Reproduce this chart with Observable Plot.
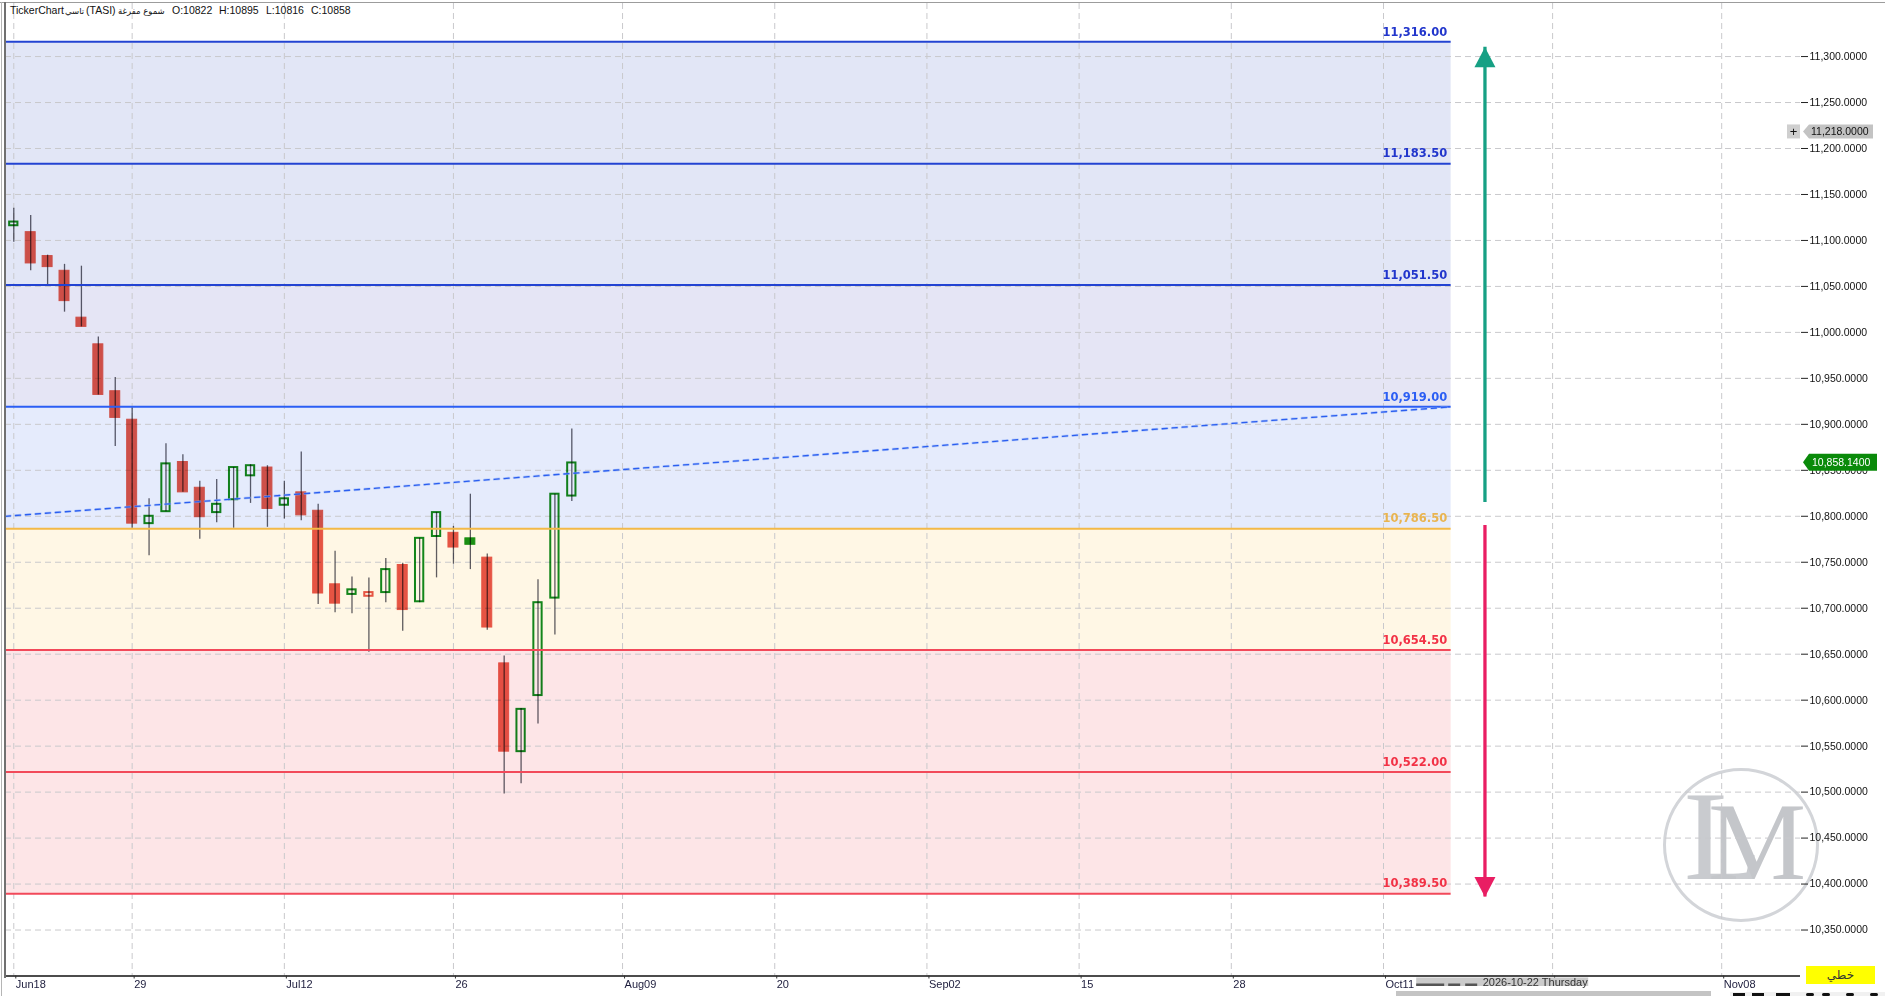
<!DOCTYPE html>
<html>
<head>
<meta charset="utf-8">
<script src="https://cdn.jsdelivr.net/npm/d3@7"></script>
<script src="https://cdn.jsdelivr.net/npm/@observablehq/plot@0.6"></script>
<style>
  html, body { margin: 0; padding: 0; background: #fff; overflow: hidden; }
  #wrap { position: relative; width: 1885px; height: 996px; font-family: 'Liberation Sans', Arial, sans-serif; }
  #wrap svg { position: absolute; left: 0; top: 0; z-index: 2; }
  .ov { position: absolute; white-space: nowrap; }
  .tt { z-index: 3; top: 4px; font-size: 10.5px; color: #111; line-height: 13px; }
  .ar { font-family: 'DejaVu Sans', 'Noto Sans', sans-serif; font-size: 8.5px; top: 5px; }
</style>
</head>
<body>
<div id="wrap"></div>
<script>
// ---------------- DATA ----------------
// trading-day index of each candle (0 = Jun18)
const dayIndex = [0,1,2,3,4,5,6,7,8,9,10,11,12,13,14,15,16,17,18,19,20,21,22,23,24,25,26,27,28,29,30,31,32,33];
const openV  = [11116,11109,11083,11067,11016,10987,10936,10905,10792,10805,10859,10831,10804,10818,10844,10853,10812,10826,10806,10726,10715,10713,10717,10747,10707,10778,10782,10776,10755,10640,10544,10605,10711,10822];
const highV  = [11135,11127,11084,11074,11072,10995,10951,10918,10819,10879,10867,10838,10840,10853,10856,10855,10838,10870,10813,10762,10734,10733,10754,10749,10776,10804,10789,10824,10759,10648,10591,10731,10824,10895];
const lowV   = [11098,11067,11052,11022,11006,10932,10876,10787,10757,10805,10826,10775,10793,10787,10814,10788,10797,10795,10704,10695,10694,10652,10706,10675,10706,10733,10748,10742,10676,10498,10509,10574,10671,10816];
const closeV = [11120,11075,11071,11034,11006,10932,10907,10792,10800,10857,10826,10799,10813,10853,10855,10808,10819,10801,10716,10705,10720,10717,10742,10698,10776,10804,10766,10769,10679,10544,10590,10706,10824,10858];

// horizontal levels
const levels      = [11316, 11183.5, 11051.5, 10919, 10786.5, 10654.5, 10522, 10389.5];
const levelLabels = ["11,316.00","11,183.50","11,051.50","10,919.00","10,786.50","10,654.50","10,522.00","10,389.50"];
const levelsEnd   = 85;            // day index where the level lines stop

// dashed trend line
const trendX = [-0.49, 85];
const trendY = [10800, 10919];

// target arrows
const arrowX    = [87, 87];
const arrowFrom = [10815, 10790];
const arrowTo   = [11310, 10386];

// axes ("25" at index 91 is hidden under the cursor date label in the reference)
const xTickIdx    = [0, 7, 16, 26, 36, 45, 54, 63, 72, 81, 91, 101];
const xTickLabels = ["Jun18","29","Jul12","26","Aug09","20","Sep02","15","28","Oct11","","Nov08"];
const yTicks = [10350,10400,10450,10500,10550,10600,10650,10700,10750,10800,10850,10900,10950,11000,11050,11100,11150,11200,11250,11300];

// price tags / cursor
const lastPrice   = 10858.14;
const cursorPrice = 11218;
const cursorDay   = 90;
const cursorLabel = "2026-10-22 Thursday";

// title pieces
const titleParts = ["TickerChart", "تاسي", "(TASI)", "شموع مفرغة"];
const ohlcLabels = ["O:10822", "H:10895", "L:10816", "C:10858"];

// ---------------- STYLE ----------------
const FONT = "'Liberation Sans', Arial, sans-serif";
const BOLD_FONT = "'DejaVu Sans', Verdana, sans-serif";
const RED = "#e6574a", GREEN = "#138a1c", GREEN_FILL = "#1b9414", WICK = "#5f5f6a";
const BAND_FILLS  = ["#e2e6f6","#e2e6f6","#e5e5f5","#e5ebfc","#fff7e5","#fde5e7","#fde5e7"];
const LINE_COLORS = ["#2343d2","#2343d2","#2343d2","#2b5ef4","#f3b947","#f2495a","#f2495a","#f2495a"];
const TEXT_COLORS = ["#2236cc","#2236cc","#2236cc","#2b5ef4","#e9b450","#f23246","#f23246","#f23246"];
const X_DOMAIN = [-0.49, 105.66];
const Y_DOMAIN = [10300, 11357.7];

// ---------------- BUILD ----------------
const candles = dayIndex.map((d, i) => {
  const o = openV[i], c = closeV[i];
  const prev = i ? closeV[i - 1] : o;
  return {d, o, h: highV[i], l: lowV[i], c, hollow: c > o, up: c >= prev};
});
const bands = levels.slice(0, -1).map((v, i) => ({top: v, bottom: levels[i + 1], i}));
const lv = levels.map((v, i) => ({v, i, label: levelLabels[i]}));
const trend = trendX.map((x, i) => ({x, y: trendY[i]}));
const arrows = arrowX.map((x, i) => ({x, from: arrowFrom[i], to: arrowTo[i]}));

const upHead = {draw(ctx) { ctx.moveTo(0, 0); ctx.lineTo(10.5, 20); ctx.lineTo(-10.5, 20); ctx.closePath(); }};
const downHead = {draw(ctx) { ctx.moveTo(0, 0); ctx.lineTo(10.5, -20); ctx.lineTo(-10.5, -20); ctx.closePath(); }};

const bodyW = 0.295, hollowW = 0.245;
const blend = {mixBlendMode: "multiply"};

const chart = Plot.plot({
  width: 1885, height: 996,
  marginTop: 3, marginLeft: 5, marginRight: 85, marginBottom: 20.5,
  x: {type: "linear", domain: X_DOMAIN, axis: null},
  y: {type: "linear", domain: Y_DOMAIN, axis: null},
  style: {fontFamily: FONT, fontSize: "11px", background: "transparent", overflow: "visible"},
  marks: [
    // bands
    Plot.rect(bands, {x1: () => X_DOMAIN[0], x2: () => levelsEnd, y1: "bottom", y2: "top",
      fill: d => BAND_FILLS[d.i]}),
    // grid
    Plot.ruleY(yTicks, {stroke: "#c9c9cc", strokeDasharray: "6,4", strokeWidth: 1}),
    Plot.ruleX(xTickIdx, {stroke: "#c9c9cc", strokeDasharray: "6,4", strokeWidth: 1}),
    // candles
    Plot.ruleX(candles, {x: "d", y1: "l", y2: "h", stroke: WICK, strokeWidth: 1.3, ...blend}),
    Plot.rect(candles.filter(d => !d.hollow && !d.up), {x1: d => d.d - bodyW, x2: d => d.d + bodyW, y1: "o", y2: "c", fill: RED, stroke: RED, strokeWidth: 1, ...blend}),
    Plot.rect(candles.filter(d => !d.hollow && d.up), {x1: d => d.d - bodyW, x2: d => d.d + bodyW, y1: "o", y2: "c", fill: GREEN_FILL, stroke: GREEN_FILL, strokeWidth: 1, ...blend}),
    Plot.rect(candles.filter(d => d.hollow && d.up), {x1: d => d.d - hollowW, x2: d => d.d + hollowW, y1: "o", y2: "c", fill: "white", stroke: GREEN, strokeWidth: 2, ...blend}),
    Plot.rect(candles.filter(d => d.hollow && !d.up), {x1: d => d.d - hollowW, x2: d => d.d + hollowW, y1: "o", y2: "c", fill: "white", stroke: RED, strokeWidth: 2, ...blend}),
    // level lines + labels
    Plot.ruleY(lv, {y: "v", x1: () => X_DOMAIN[0], x2: () => levelsEnd, stroke: d => LINE_COLORS[d.i], strokeWidth: 2}),
    Plot.text(lv, {x: () => levelsEnd, y: "v", text: "label", textAnchor: "end", dx: -4, dy: -10,
      fill: d => TEXT_COLORS[d.i], fontFamily: BOLD_FONT, fontWeight: "bold", fontSize: 11.5}),
    // trend line
    Plot.line(trend, {x: "x", y: "y", stroke: "#8fb0f7", strokeWidth: 2.6, strokeDasharray: "5,5", strokeOpacity: 0.55}),
    Plot.line(trend, {x: "x", y: "y", stroke: "#2b5ef0", strokeWidth: 1.3, strokeDasharray: "5,5"}),
    // arrows
    Plot.ruleX(arrows.slice(0, 1), {x: "x", y1: "from", y2: "to", stroke: "#16a084", strokeWidth: 3.3}),
    Plot.dot(arrows.slice(0, 1), {x: "x", y: "to", symbol: upHead, fill: "#16a084", stroke: "none", r: 6}),
    Plot.ruleX(arrows.slice(1), {x: "x", y1: "from", y2: "to", stroke: "#e91e63", strokeWidth: 3.3}),
    Plot.dot(arrows.slice(1), {x: "x", y: "to", symbol: downHead, fill: "#e91e63", stroke: "none", r: 6}),
    // axes
    Plot.ruleY([Y_DOMAIN[0]], {stroke: "#111", strokeWidth: 1.5}),
    Plot.axisX(xTickIdx, {anchor: "bottom", tickSize: 3, tickPadding: 1, textAnchor: "start", dx: 2,
      tickFormat: d => xTickLabels[xTickIdx.indexOf(d)], fill: "#1c1c3c", stroke: "#333", fontSize: 11}),
    Plot.axisY(yTicks, {anchor: "right", tickSize: 7, tickPadding: 2, tickFormat: d3.format(",.4f"),
      fill: "#111", stroke: "#222", fontSize: 10.5})
  ]
});

const wrap = document.getElementById("wrap");
wrap.appendChild(chart);

// ---------- overlays driven by the plot scales ----------
const xs = chart.scale("x"), ys = chart.scale("y");
const svg = d3.select(chart);
const plotRight = 1885 - 85;
const ov = svg.append("g").attr("font-family", FONT).attr("text-anchor", "start");

// last price tag
const yl = ys.apply(lastPrice);
ov.append("path").attr("d", `M${plotRight + 3},${yl} l6,-8.5 h68 v17 h-68 z`).attr("fill", "#0a8a0a");
ov.append("text").attr("x", plotRight + 12).attr("y", yl).attr("dy", "0.35em")
  .attr("fill", "#fff").attr("font-size", 10.5).text(d3.format(",.4f")(lastPrice));

// cursor price tag
const yc = ys.apply(cursorPrice);
ov.append("path").attr("d", `M${plotRight + 3},${yc} l6,-7 h64 v14 h-64 z`).attr("fill", "#c3c3c3");
ov.append("text").attr("x", plotRight + 11).attr("y", yc).attr("dy", "0.35em")
  .attr("fill", "#111").attr("font-size", 10.5).text(d3.format(",.4f")(cursorPrice));
ov.append("rect").attr("x", plotRight - 13).attr("y", yc - 7).attr("width", 13).attr("height", 14).attr("fill", "#cfcfcf");
ov.append("text").attr("x", plotRight - 6.5).attr("y", yc).attr("dy", "0.35em").attr("text-anchor", "middle")
  .attr("fill", "#111").attr("font-size", 13).text("+");

// cursor date label on the time axis
const xc = xs.apply(cursorDay);
const yb = 996 - 20.5;
ov.append("rect").attr("x", xc - 119).attr("y", yb + 2).attr("width", 172).attr("height", 8.5).attr("fill", "#cbcbcb");
[[-119, 28], [-87, 12], [-70, 12]].forEach(([o, w]) =>
  ov.append("rect").attr("x", xc + o).attr("y", yb + 8).attr("width", w).attr("height", 2.5).attr("fill", "#555"));
ov.append("text").attr("x", xc).attr("y", yb + 7).attr("dy", "0.35em").attr("text-anchor", "middle")
  .attr("fill", "#333").attr("font-size", 11).text(cursorLabel);

// ---------- static chrome ----------
function div(css, html, cls = "ov") {
  const e = document.createElement("div");
  e.className = cls; e.style.cssText = css; if (html) e.textContent = html; wrap.appendChild(e); return e;
}
// frame lines
div("left:0;top:2px;width:1885px;height:1px;background:#9c9c9c;z-index:4");
div("left:1px;top:2px;width:1px;height:994px;background:#b5b5b5;z-index:4");
div("left:4px;top:2px;width:1.5px;height:976px;background:#707070;z-index:4");
// title
const titleX = [10, 65, 86, 118];
titleParts.forEach((t, i) => div(`left:${titleX[i]}px;`, t, "ov tt" + (i % 2 ? " ar" : "")));
const ohlcX = [172, 219, 266, 311];
ohlcLabels.forEach((t, i) => div(`left:${ohlcX[i]}px;`, t, "ov tt"));
// chart-type box
div("left:1806px;top:966px;width:69px;height:18px;background:#ffff00;z-index:4;font-size:12px;color:#333;text-align:center;line-height:18px;font-family:'DejaVu Sans',sans-serif", "خطي");
// scrollbar + toolbar
div("left:1396px;top:991px;width:315px;height:5px;background:#c4c4c4;z-index:4");
div("left:1730px;top:992px;width:155px;height:4px;background:#f1f1f1;z-index:4");
[[1733,12],[1752,12],[1776,14],[1806,8],[1822,8],[1846,8],[1870,8]].forEach(([x, w]) =>
  div(`left:${x}px;top:993px;width:${w}px;height:3px;background:#111;z-index:5;border-radius:${w < 10 ? 4 : 0}px`));
// watermark (single text element with a smaller M tucked into the L)
div("left:1663px;top:768px;width:150px;height:148px;border:3px solid #d3d5d9;border-radius:50%;z-index:1");
const wm = div("left:1684px;top:772px;font-family:'Liberation Serif','DejaVu Serif',serif;font-size:128px;line-height:128px;color:#c9cbcf;z-index:1");
wm.innerHTML = 'L<span style="font-size:110px;margin-left:-54px;color:#c4c6ca">M</span>';
</script>
</body>
</html>
